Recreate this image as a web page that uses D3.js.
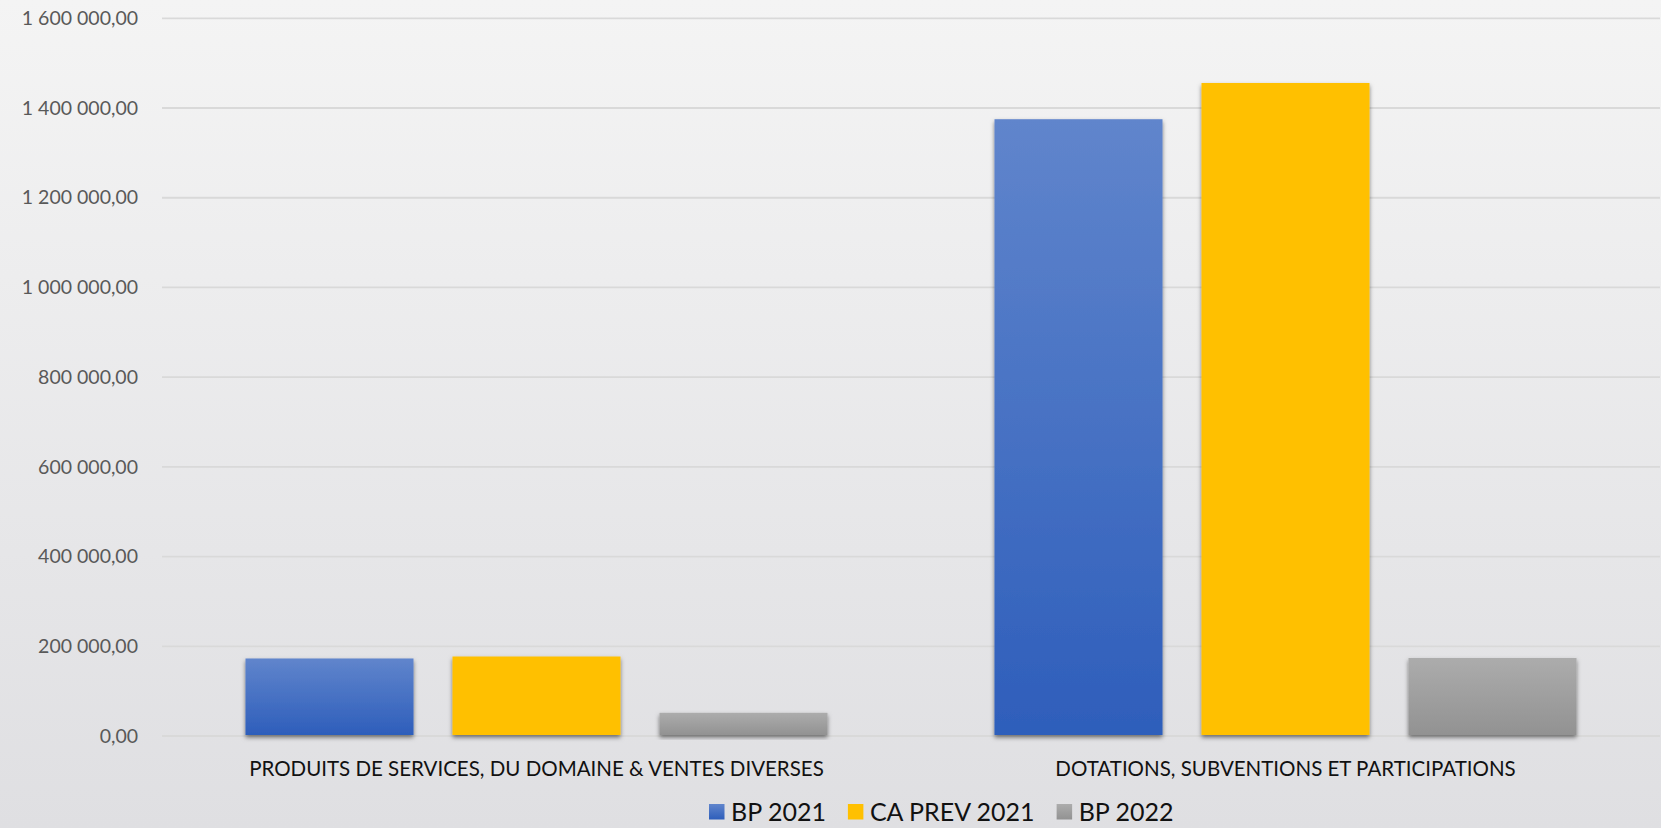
<!DOCTYPE html>
<meta charset="utf-8">
<script src="https://d3js.org/d3.v7.min.js"></script>
<style>
  body { margin: 0; }
  text { font-family: Lato, "Open Sans", sans-serif; }
</style>
<div id="my_dataviz"></div>
<script>

    // data
    const categories = [
      "PRODUITS DE SERVICES, DU DOMAINE & VENTES DIVERSES",
      "DOTATIONS, SUBVENTIONS ET PARTICIPATIONS"
    ];
    const seriesNames = ["BP 2021", "CA PREV 2021", "BP 2022"];
    const bp2021 = [172800, 1375000];
    const caPrev2021 = [177200, 1455800];
    const bp2022 = [51700, 173900];
    const yTicks = [0, 200000, 400000, 600000, 800000, 1000000, 1200000, 1400000, 1600000];

    const seriesValues = [bp2021, caPrev2021, bp2022];

    // set the dimensions and margins of the graph
    const W = 1661, H = 828;
    const margin = {top: 18.3, right: 1, bottom: 92, left: 162},
        width = W - margin.left - margin.right,
        height = H - margin.top - margin.bottom;

    const svg = d3.select("#my_dataviz")
      .append("svg")
        .attr("width", W)
        .attr("height", H);

    const defs = svg.append("defs");

    // background gradient
    const bg = defs.append("linearGradient")
        .attr("id", "bg").attr("x1", 0).attr("y1", 0).attr("x2", 0).attr("y2", 1);
    bg.append("stop").attr("offset", "0%").attr("stop-color", "#f4f4f4");
    bg.append("stop").attr("offset", "100%").attr("stop-color", "#dfdfe2");

    // bar gradients
    const grads = [
      {id: "g0", top: "#6085cc", bottom: "#2e5ebb"},
      {id: "g1", top: "#ffc000", bottom: "#ffc000"},
      {id: "g2", top: "#acacac", bottom: "#929292"}
    ];
    grads.forEach(g => {
      const lg = defs.append("linearGradient")
          .attr("id", g.id).attr("x1", 0).attr("y1", 0).attr("x2", 0).attr("y2", 1);
      lg.append("stop").attr("offset", "0%").attr("stop-color", g.top);
      lg.append("stop").attr("offset", "100%").attr("stop-color", g.bottom);
    });

    const shadow = defs.append("filter").attr("id", "shadow")
        .attr("x", "-10%").attr("y", "-10%").attr("width", "120%").attr("height", "130%");
    shadow.append("feDropShadow")
        .attr("dx", 0).attr("dy", 2.5).attr("stdDeviation", 2.2)
        .attr("flood-color", "#000").attr("flood-opacity", 0.5);

    svg.append("rect")
        .attr("width", W).attr("height", H)
        .attr("fill", "url(#bg)");

    const g = svg.append("g")
        .attr("transform", `translate(${margin.left},${margin.top})`);

    // French number format
    const fr = d3.formatLocale({decimal: ",", thousands: "\u00a0", grouping: [3], currency: ["", " €"]});
    const fmt = fr.format(",.2f");

    // Y axis
    const y = d3.scaleLinear()
      .domain([0, 1600000])
      .range([height, 0]);

    // gridlines
    g.selectAll(".grid")
      .data(yTicks)
      .join("line")
        .attr("x1", 0)
        .attr("x2", width)
        .attr("y1", d => y(d))
        .attr("y2", d => y(d))
        .attr("stroke", "#d9d9d9")
        .attr("stroke-width", 1.8);

    const yAxis = g.append("g")
      .call(d3.axisLeft(y).tickValues(yTicks).tickFormat(fmt).tickSize(0).tickPadding(24));
    yAxis.select(".domain").remove();
    yAxis.selectAll("text")
        .attr("fill", "#595959")
        .style("font-size", "19.5px")
        .style("font-family", "Lato, sans-serif");

    // X scales
    const x = d3.scaleBand()
      .domain(categories)
      .range([0, width])
      .padding(0);

    const outer = 83.5;
    const xSub = d3.scaleBand()
      .domain(d3.range(seriesNames.length))
      .range([outer, x.bandwidth() - outer])
      .paddingInner(0.1884)
      .paddingOuter(0);

    const groups = g.selectAll(".cat")
      .data(categories)
      .join("g")
        .attr("transform", d => `translate(${x(d)},0)`);

    groups.selectAll("rect")
      .data((d, i) => seriesValues.map((s, k) => ({k: k, v: s[i]})))
      .join("rect")
        .attr("x", d => xSub(d.k))
        .attr("width", xSub.bandwidth())
        .attr("y", d => y(d.v))
        .attr("height", d => y(0) - y(d.v) - 1)
        .attr("fill", d => `url(#${grads[d.k].id})`)
        .attr("filter", "url(#shadow)");

    // category labels
    groups.append("text")
        .attr("x", x.bandwidth() / 2)
        .attr("y", height + 40)
        .attr("text-anchor", "middle")
        .attr("fill", "#111")
        .style("font-size", "20.5px")
        .text(d => d);

    // legend
    const legend = svg.append("g")
        .attr("transform", `translate(709, ${H - 7})`);
    let lx = 0;
    seriesNames.forEach((name, k) => {
      const item = legend.append("g").attr("transform", `translate(${lx},0)`);
      item.append("rect")
          .attr("x", 0).attr("y", -17)
          .attr("width", 15.5).attr("height", 15.5)
          .attr("fill", `url(#${grads[k].id})`);
      const t = item.append("text")
          .attr("x", 22).attr("y", 0)
          .attr("fill", "#111")
          .style("font-size", "25px")
          .text(name);
      lx += 22 + t.node().getComputedTextLength() + 22;
    });
</script>
